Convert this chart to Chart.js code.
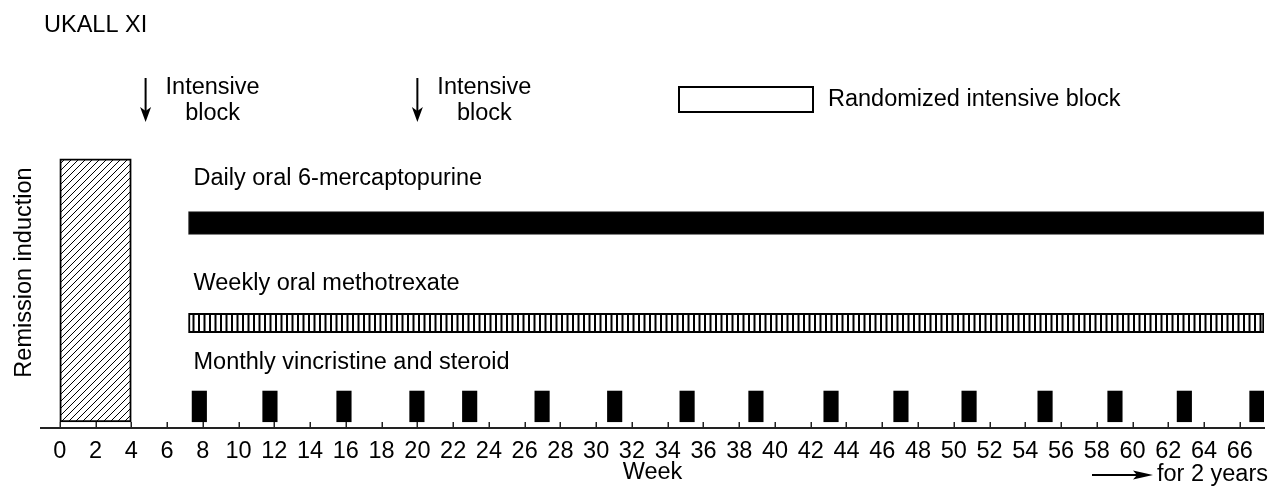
<!DOCTYPE html>
<html>
<head>
<meta charset="utf-8">
<script src="https://cdn.jsdelivr.net/npm/chart.js@4/dist/chart.umd.min.js"></script>
<style>
  html, body { margin: 0; padding: 0; background: #fff; }
  #wadah { width: 1278px; height: 489px; position: relative; }
</style>
</head>
<body>
<div id="wadah"><canvas id="grafik"></canvas></div>
<script>
const judul = "UKALL XI";
const weekTicks = [0, 2, 4, 6, 8, 10, 12, 14, 16, 18, 20, 22, 24, 26, 28, 30, 32, 34, 36, 38, 40, 42, 44, 46, 48, 50, 52, 54, 56, 58, 60, 62, 64, 66];
const induction = [0, 4];
const mercaptopurine = [7.2, 67.35];
const methotrexate = [7.2, 67.35];
const vcrStart = [7.40, 11.35, 15.49, 19.57, 22.52, 26.57, 30.63, 34.68, 38.53, 42.73, 46.64, 50.45, 54.70, 58.61, 62.49, 66.55];
const vcrEnd   = [8.21, 12.16, 16.30, 20.38, 23.33, 27.38, 31.44, 35.49, 39.34, 43.54, 47.45, 51.26, 55.51, 59.42, 63.30, 67.35];
const intensiveWeeks = [4.8, 20];

const FONT = '"Liberation Sans", Arial, Helvetica, sans-serif';
Chart.defaults.font.family = FONT;
Chart.defaults.font.size = 23.5;
Chart.defaults.color = "#000";

// pola arsir miring
function hatch() {
    const c = document.createElement("canvas");
    c.width = 7; c.height = 7;
    const g = c.getContext("2d");
    g.fillStyle = "#fff"; g.fillRect(0, 0, 7, 7);
    g.strokeStyle = "#000"; g.lineWidth = 1;
    g.beginPath();
    g.moveTo(-1, 8); g.lineTo(8, -1);
    g.moveTo(-1, 1); g.lineTo(1, -1);
    g.moveTo(6, 8); g.lineTo(8, 6);
    g.stroke();
    return g.createPattern(c, "repeat");
}

// pola garis tegak
function stripes() {
    const c = document.createElement("canvas");
    c.width = 11; c.height = 4;
    const g = c.getContext("2d");
    g.fillStyle = "#fff"; g.fillRect(0, 0, 11, 4);
    g.fillStyle = "#000";
    g.fillRect(0, 0, 2, 4);
    g.fillRect(5.5, 0, 2, 4);
    return g.createPattern(c, "repeat");
}

// rows (centre on the hidden y scale, 1 unit = 1px)
const rowY = { induction: 137.6, mp: 205, mtx: 105, vcr: 21.6 };

function arrowDown(ctx, x, y1, y2) {
    ctx.lineWidth = 2;
    ctx.beginPath(); ctx.moveTo(x, y1); ctx.lineTo(x, y2 - 8); ctx.stroke();
    ctx.beginPath();
    ctx.moveTo(x, y2); ctx.lineTo(x - 5.5, y2 - 15); ctx.lineTo(x, y2 - 11); ctx.lineTo(x + 5.5, y2 - 15);
    ctx.closePath(); ctx.fill();
}

const anotasi = {
    id: "anotasi",
    afterDraw(c) {
        const { ctx, chartArea: area, scales: { x } } = c;
        ctx.save();
        ctx.fillStyle = "#000"; ctx.strokeStyle = "#000";
        ctx.font = "23.5px " + FONT;

        // tick kecil ke atas
        ctx.lineWidth = 1.5; ctx.strokeStyle = "#222";
        x.ticks.forEach(t => {
            const px = Math.round(x.getPixelForValue(t.value)) + 0.25;
            ctx.beginPath(); ctx.moveTo(px, area.bottom); ctx.lineTo(px, area.bottom - 6); ctx.stroke();
        });
        ctx.strokeStyle = "#000";

        ctx.textAlign = "left"; ctx.textBaseline = "alphabetic";
        ctx.fillText(judul, 44, 31.5);

        // label baris
        const ds = c.data.datasets;
        const x0 = x.getPixelForValue(mercaptopurine[0]) + 5;
        ctx.fillText(ds[1].label, x0, 185);
        ctx.fillText(ds[2].label, x0, 290);
        ctx.fillText(ds[3].label, x0, 369);

        // blok intensif
        intensiveWeeks.forEach(w => {
            const px = x.getPixelForValue(w);
            arrowDown(ctx, px, 78, 122);
            ctx.textAlign = "center";
            ctx.fillText("Intensive", px + 67, 94);
            ctx.fillText("block", px + 67, 120);
        });

        // legenda
        ctx.lineWidth = 2;
        ctx.strokeRect(679, 87, 134, 25);
        ctx.textAlign = "left";
        ctx.fillText("Randomized intensive block", 828, 106);

        // panah 2 tahun
        ctx.beginPath(); ctx.moveTo(1092, 475); ctx.lineTo(1142, 475); ctx.stroke();
        ctx.beginPath();
        ctx.moveTo(1153, 475); ctx.lineTo(1133, 470.5); ctx.lineTo(1137, 475); ctx.lineTo(1133, 479.5);
        ctx.closePath(); ctx.fill();
        ctx.fillText("for 2 years", 1157, 481);
        ctx.restore();
    }
};

new Chart(grafik, {
    type: "bar",
    data: {
        datasets: [
            { label: "Remission induction", data: [{ x: induction, y: rowY.induction }], backgroundColor: hatch(), borderColor: "#000", borderWidth: 2, barThickness: 263 },
            { label: "Daily oral 6-mercaptopurine", data: [{ x: mercaptopurine, y: rowY.mp }], backgroundColor: "#000", borderColor: "#222", borderWidth: 1, barThickness: 22.6 },
            { label: "Weekly oral methotrexate", data: [{ x: methotrexate, y: rowY.mtx }], backgroundColor: stripes(), borderColor: "#000", borderWidth: 2, barThickness: 19.4 },
            { label: "Monthly vincristine and steroid", data: vcrStart.map((s, i) => ({ x: [s, vcrEnd[i]], y: rowY.vcr })), backgroundColor: "#000", barThickness: 30.7 }
        ]
    },
    options: {
        indexAxis: "y",
        responsive: true, maintainAspectRatio: false,
        animation: false, events: [],
        datasets: { bar: { grouped: false, borderSkipped: false } },
        layout: { padding: { top: 117, right: 14, bottom: 0, left: 0 } },
        plugins: { legend: { display: false }, tooltip: { enabled: false } },
        scales: {
            x: {
                type: "linear", min: -1.05, max: 67.35,
                afterBuildTicks: s => { s.ticks = weekTicks.map(v => ({ value: v })); },
                afterFit: s => { s.height = 61; },
                ticks: { autoSkip: false, maxRotation: 0, padding: 1, color: "#000" },
                grid: { display: false },
                border: { display: true, color: "#222", width: 2 },
                title: { display: true, text: "Week", padding: { top: 0, bottom: 2 } }
            },
            y: {
                type: "linear", min: 0, max: 311, offset: false,
                afterFit: s => { s.width = 41; },
                ticks: { display: false },
                grid: { display: false },
                border: { display: false },
                title: { display: true, text: "Remission induction", padding: { top: 10, bottom: 0 } }
            }
        }
    },
    plugins: [anotasi]
});
</script>
</body>
</html>
